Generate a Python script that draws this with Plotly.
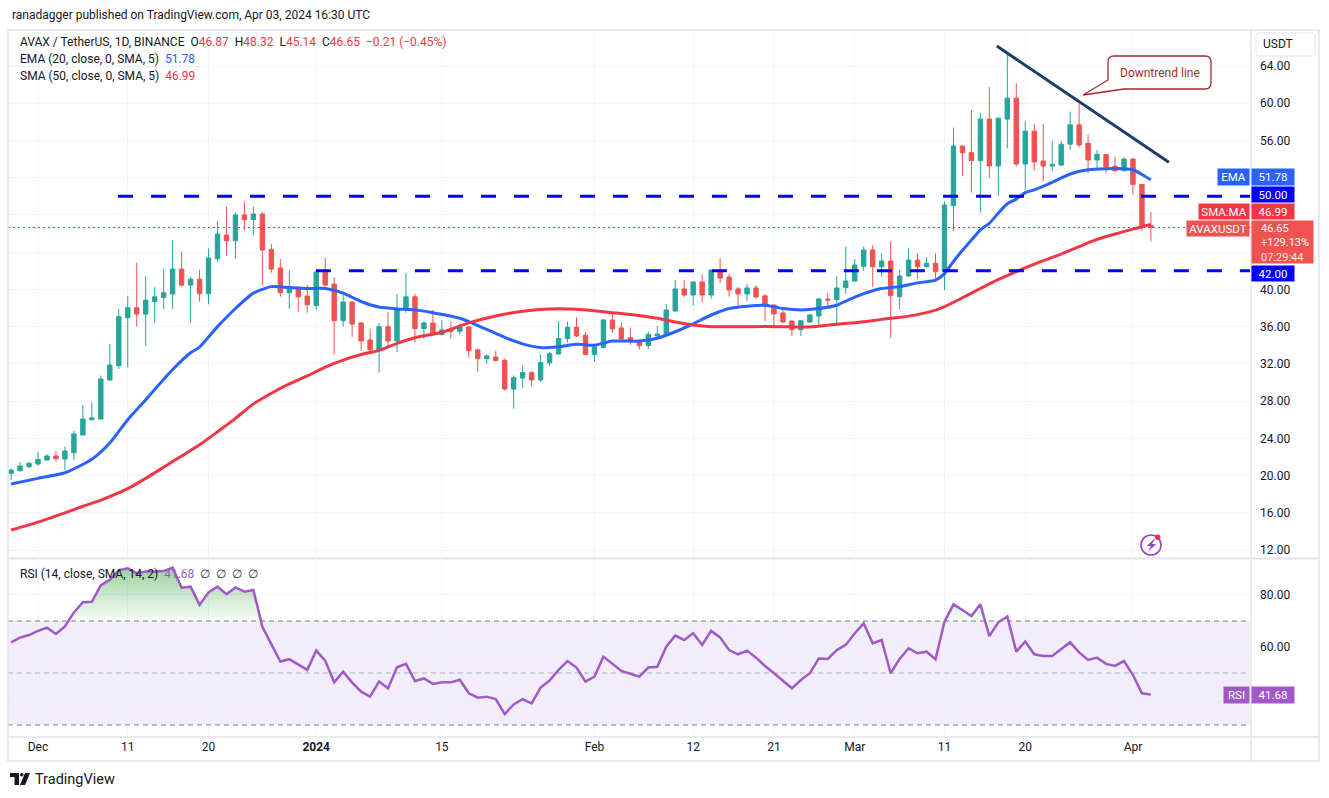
import plotly.graph_objects as go
import pandas as pd

# ---------------- DATA ----------------
dates = pd.date_range("2023-11-28", "2024-04-03", freq="D")

opens = [20.24, 20.52, 20.95,
         21.24, 21.67, 22.10, 21.78, 22.46, 24.36, 26.00, 26.08, 30.27, 31.80, 36.96, 38.03, 37.35, 38.70, 39.13, 39.50,
         42.18, 40.46, 41.10, 39.53, 43.30, 45.84, 45.23, 48.00, 47.50, 48.10, 44.30, 42.30, 39.64, 40.18, 39.28,
         38.28, 41.85, 40.57, 36.64, 38.64, 36.39, 34.57, 33.50, 36.00, 34.46, 37.85, 39.20, 35.78, 36.39, 35.14,
         35.64, 35.50, 35.96, 33.50, 32.56, 32.74, 32.38, 29.30, 30.48, 31.06, 30.27, 32.13, 33.06, 34.71, 35.93, 35.07,
         33.00, 33.75, 36.72, 35.86, 34.82, 34.46, 33.96, 35.00, 35.14, 37.68, 40.05, 39.40, 40.80, 39.40, 42.08,
         41.33, 40.05, 39.51, 40.16, 39.30, 38.33, 37.47, 36.60, 35.67, 36.50, 37.14, 38.97, 38.90, 40.20,
         40.90, 42.50, 44.23, 42.44, 43.05, 39.22, 41.44, 43.15, 42.44, 42.80, 41.90, 49.00, 55.40, 54.70, 53.84,
         58.30, 53.27, 58.30, 60.55, 53.48, 57.00, 53.79, 53.25, 53.36, 55.60, 57.68, 55.70, 53.90, 54.50, 53.25, 52.75,
         54.00, 51.28, 46.87]
highs = [20.78, 21.45, 21.49,
         22.57, 22.30, 22.64, 23.10, 24.80, 27.58, 27.83, 30.74, 34.14, 37.90, 39.28, 42.86, 41.43, 40.25, 42.20, 45.30,
         44.05, 41.36, 42.10, 44.40, 47.34, 48.90, 48.26, 49.46, 48.90, 48.30, 44.88, 43.26, 42.07, 40.20, 40.47,
         41.90, 43.37, 41.32, 39.40, 38.78, 36.45, 35.77, 36.39, 37.56, 39.50, 41.78, 39.50, 36.57, 37.79, 36.72,
         36.54, 36.36, 36.07, 33.67, 33.00, 33.39, 32.56, 30.77, 31.85, 31.24, 32.99, 33.28, 36.60, 36.54, 37.00, 35.43,
         33.90, 36.82, 37.61, 36.47, 35.89, 34.50, 35.46, 36.06, 38.44, 41.01, 41.00, 40.85, 41.62, 42.10, 43.37,
         41.62, 40.26, 40.59, 40.48, 39.50, 38.35, 37.97, 36.70, 36.70, 37.35, 39.08, 39.62, 41.40, 44.60,
         43.26, 44.60, 44.76, 43.87, 45.13, 42.08, 44.40, 43.87, 43.44, 43.87, 49.43, 57.39, 55.45, 59.27, 58.98,
         61.73, 58.45, 65.35, 62.16, 58.08, 57.75, 57.78, 55.95, 55.95, 59.10, 59.93, 56.67, 55.00, 54.55, 54.25, 54.18,
         54.10, 51.30, 48.32]
lows = [19.52, 20.45, 20.77,
        21.06, 21.60, 21.50, 20.60, 21.67, 24.30, 25.95, 25.97, 30.20, 31.45, 31.60, 36.00, 33.96, 36.40, 37.90, 37.90,
        40.30, 36.40, 38.67, 38.40, 42.97, 43.60, 43.30, 46.30, 45.80, 40.47, 41.78, 39.20, 37.90, 37.60, 37.49,
        37.78, 40.30, 32.98, 36.00, 34.92, 33.40, 33.14, 31.07, 33.86, 33.25, 37.49, 34.28, 34.68, 35.07, 35.07,
        34.71, 35.20, 32.67, 31.17, 32.00, 32.30, 29.16, 27.16, 29.40, 29.55, 30.06, 31.81, 33.00, 34.28, 34.90, 32.95,
        32.25, 33.70, 35.36, 34.57, 34.03, 33.57, 33.60, 34.70, 35.10, 37.60, 39.20, 38.25, 38.60, 38.98, 40.68,
        39.22, 38.25, 38.76, 38.98, 36.60, 35.79, 36.39, 34.99, 34.99, 36.40, 36.10, 38.22, 36.10, 39.50,
        40.85, 41.97, 40.29, 41.37, 34.80, 37.86, 41.40, 41.10, 42.35, 40.97, 39.93, 46.28, 52.19, 50.40, 48.25,
        52.00, 50.00, 55.15, 53.20, 50.70, 52.75, 51.60, 52.68, 53.30, 55.00, 55.28, 52.50, 52.86, 52.54, 52.68, 52.70,
        50.20, 46.27, 45.14]
closes = [20.59, 21.02, 21.31,
          21.74, 22.10, 21.81, 22.64, 24.47, 26.08, 26.20, 30.38, 31.88, 37.07, 38.03, 37.35, 38.85, 39.20, 39.64, 42.18,
          40.46, 41.10, 39.53, 43.37, 45.94, 45.23, 48.00, 47.50, 48.10, 44.23, 42.18, 39.64, 40.18, 39.20, 38.35,
          41.85, 40.46, 36.64, 38.64, 36.28, 34.46, 33.50, 36.00, 34.46, 37.90, 39.20, 35.78, 36.39, 35.14, 35.64,
          35.50, 35.96, 33.42, 32.56, 32.85, 32.35, 29.30, 30.52, 31.06, 30.27, 32.13, 33.10, 34.74, 35.93, 35.00, 33.00,
          33.82, 36.72, 35.75, 34.68, 34.39, 33.96, 35.17, 35.20, 37.79, 40.05, 39.40, 40.80, 39.40, 42.08, 41.22,
          39.94, 39.51, 40.16, 39.19, 38.22, 37.36, 36.50, 35.67, 36.64, 37.25, 38.97, 38.86, 40.15, 40.90,
          42.62, 44.23, 42.44, 43.05, 39.32, 41.44, 43.15, 42.44, 42.80, 41.90, 49.07, 55.40, 54.70, 53.84, 58.30,
          53.27, 58.40, 60.55, 53.48, 57.00, 53.70, 53.25, 53.43, 55.60, 57.68, 55.53, 53.90, 54.50, 53.18, 52.75, 54.00,
          51.28, 46.86, 46.65]

rsi = [61.8, 63.6, 64.6,
       66.2, 67.4, 65.0, 67.9, 73.3, 77.2, 77.4, 83.8, 85.8, 89.6, 90.3, 88.3, 89.0, 89.0, 89.2, 90.5,
       82.8, 83.2, 76.2, 81.0, 83.2, 80.3, 82.9, 81.3, 81.9, 67.8, 61.4, 54.4, 55.3, 53.1, 51.2,
       58.6, 54.7, 46.4, 50.5, 46.3, 42.8, 40.9, 46.7, 44.1, 52.2, 53.5, 46.9, 47.9, 45.8, 46.4,
       46.4, 47.4, 42.2, 40.5, 40.9, 40.0, 34.2, 37.9, 39.9, 38.3, 44.4, 47.1, 51.2, 54.6, 52.1, 46.7,
       48.6, 56.3, 53.7, 50.8, 49.7, 48.6, 52.1, 52.4, 60.1, 64.4, 62.7, 65.3, 60.8, 66.2, 63.7,
       58.8, 57.2, 58.6, 55.9, 52.7, 49.9, 47.1, 44.1, 47.3, 49.9, 55.6, 55.4, 58.8, 60.8,
       65.3, 69.1, 61.4, 62.7, 49.9, 55.4, 59.5, 57.6, 58.2, 55.3, 69.7, 76.4, 74.2, 71.9, 76.4,
       64.2, 69.5, 71.7, 58.2, 62.1, 57.2, 56.5, 56.5, 59.2, 61.8, 57.9, 55.0, 55.9, 53.5, 52.7, 54.6,
       49.2, 42.2, 41.68]

ema_dates = ["2023-11-28", "2023-12-01", "2023-12-04", "2023-12-07", "2023-12-09", "2023-12-11", "2023-12-13",
             "2023-12-16", "2023-12-18", "2023-12-19", "2023-12-21", "2023-12-23", "2023-12-25", "2023-12-27",
             "2023-12-29", "2023-12-31", "2024-01-02", "2024-01-04", "2024-01-06", "2024-01-08", "2024-01-10",
             "2024-01-12", "2024-01-14", "2024-01-17", "2024-01-20", "2024-01-22", "2024-01-24", "2024-01-26",
             "2024-01-28", "2024-01-30", "2024-02-01", "2024-02-03", "2024-02-06", "2024-02-08", "2024-02-10",
             "2024-02-12", "2024-02-14", "2024-02-16", "2024-02-18", "2024-02-20", "2024-02-22", "2024-02-24",
             "2024-02-26", "2024-02-28", "2024-02-29", "2024-03-02", "2024-03-04", "2024-03-06", "2024-03-08",
             "2024-03-10", "2024-03-11", "2024-03-12", "2024-03-13", "2024-03-14", "2024-03-15", "2024-03-16",
             "2024-03-17", "2024-03-18", "2024-03-19", "2024-03-20", "2024-03-21", "2024-03-23", "2024-03-25",
             "2024-03-27", "2024-03-29", "2024-03-31", "2024-04-01", "2024-04-02", "2024-04-03"]
ema_vals = [19.1, 19.7, 20.3, 21.75, 23.5, 26.0, 28.15,
            31.4, 33.2, 33.8, 36.0, 37.95, 39.6, 40.3,
            40.2, 40.1, 40.1, 39.6, 38.7, 38.1, 37.9,
            37.8, 37.5, 36.9, 35.7, 34.85, 34.15, 33.75,
            33.85, 34.1, 34.0, 34.45, 34.45, 34.75, 35.45,
            36.3, 37.25, 37.95, 38.2, 38.3, 37.95, 37.8,
            37.95, 38.3, 38.75, 39.55, 40.1, 40.3, 40.7,
            41.0, 41.7, 43.0, 44.2, 45.3, 46.4, 47.1,
            48.2, 49.2, 49.7, 50.4, 50.7, 51.5, 52.4,
            52.85, 52.97, 52.97, 52.85, 52.35, 51.78]

sma_dates = ["2023-11-28", "2023-12-01", "2023-12-04", "2023-12-06", "2023-12-08", "2023-12-11", "2023-12-13",
             "2023-12-15", "2023-12-17", "2023-12-19", "2023-12-21", "2023-12-23", "2023-12-25", "2023-12-27",
             "2023-12-29", "2023-12-31", "2024-01-02", "2024-01-04", "2024-01-06", "2024-01-08", "2024-01-10",
             "2024-01-12", "2024-01-15", "2024-01-18", "2024-01-21", "2024-01-24", "2024-01-27", "2024-01-30",
             "2024-02-01", "2024-02-03", "2024-02-05", "2024-02-08", "2024-02-10", "2024-02-12", "2024-02-14",
             "2024-02-18", "2024-02-22", "2024-02-24", "2024-02-26", "2024-02-28", "2024-03-01", "2024-03-04",
             "2024-03-07", "2024-03-10", "2024-03-11", "2024-03-13", "2024-03-15", "2024-03-17", "2024-03-19",
             "2024-03-21", "2024-03-22", "2024-03-24", "2024-03-26", "2024-03-28", "2024-03-30", "2024-04-01",
             "2024-04-02", "2024-04-03"]
sma_vals = [14.15, 15.0, 16.0, 16.7, 17.37, 18.6, 19.7,
            20.9, 22.1, 23.3, 24.7, 26.15, 27.7, 28.85,
            29.85, 30.7, 31.65, 32.4, 33.0, 33.45, 34.2,
            34.8, 35.4, 36.4, 37.15, 37.65, 37.9, 37.87,
            37.7, 37.5, 37.3, 36.9, 36.5, 36.17, 36.0,
            36.0, 36.0, 35.95, 36.05, 36.26, 36.42, 36.78,
            37.13, 37.78, 38.14, 39.1, 40.1, 41.07, 41.9,
            42.72, 43.1, 43.8, 44.6, 45.37, 45.95, 46.48,
            46.73, 46.99]

tick_dates = ["2023-12-01", "2023-12-11", "2023-12-20", "2024-01-01", "2024-01-15", "2024-02-01",
              "2024-02-12", "2024-02-21", "2024-03-01", "2024-03-11", "2024-03-20", "2024-04-01"]
tick_text = ["Dec", "11", "20", "<b>2024</b>", "15", "Feb", "12", "21", "Mar", "11", "20", "Apr"]

price_ticks = [12, 16, 20, 24, 28, 32, 36, 40, 44, 48, 52, 56, 60, 64]
price_tick_text = ["12.00", "16.00", "20.00", "24.00", "28.00", "32.00", "36.00", "40.00",
                   "", "", "", "56.00", "60.00", "64.00"]
rsi_ticks = [40, 60, 80]
rsi_tick_text = ["", "60.00", "80.00"]

level_hi, level_hi_start = 50.0, "2023-12-09 22:00"
level_lo, level_lo_start = 42.0, "2023-12-31 23:00"
last_price = 46.65
trend_start = ("2024-03-16 20:00", 66.15)
trend_end = ("2024-04-05 00:00", 53.65)

# ---------------- LAYOUT HELPERS ----------------
W, H = 1329, 798
ML, MR, MT, MB = 8, 79, 30, 61
PW, PH = W - ML - MR, H - MT - MB
FONT = "Roboto, 'Noto Sans', sans-serif"
TXT = "#131722"
GRID = "#f0f3fa"
BORDER = "#e0e3eb"
UP, DOWN = "#26a69a", "#ef5350"
EMA_C, SMA_C, RSI_C = "#2962ff", "#f23645", "#a158c9"


def PX(px):
    return (px - ML) / PW


def PY(py):
    return (H - MB - py) / PH


def P(px, py):
    return f"{PX(px):.5f},{PY(py):.5f}"


base = pd.Timestamp("2023-12-01")
x_range = [base + pd.Timedelta(days=-3.343), base + pd.Timedelta(days=135.04)]

fig = go.Figure()

fig.add_trace(go.Candlestick(
    x=dates, open=opens, high=highs, low=lows, close=closes,
    increasing=dict(line=dict(color=UP, width=1), fillcolor=UP),
    decreasing=dict(line=dict(color=DOWN, width=1), fillcolor=DOWN),
    whiskerwidth=0, xaxis="x", yaxis="y", hoverinfo="skip", showlegend=False))

fig.add_trace(go.Scatter(x=pd.to_datetime(ema_dates), y=ema_vals, mode="lines",
                         line=dict(color=EMA_C, width=3, shape="spline", smoothing=0.6),
                         xaxis="x", yaxis="y", hoverinfo="skip", showlegend=False))
fig.add_trace(go.Scatter(x=pd.to_datetime(sma_dates), y=sma_vals, mode="lines",
                         line=dict(color=SMA_C, width=3, shape="spline", smoothing=0.6),
                         xaxis="x", yaxis="y", hoverinfo="skip", showlegend=False))

# RSI overbought fill (region above 70)
fx, fy = [], []
for i in range(len(rsi)):
    if i > 0:
        a, b = rsi[i - 1], rsi[i]
        if (a - 70) * (b - 70) < 0:
            t = (70 - a) / (b - a)
            fx.append(dates[i - 1] + (dates[i] - dates[i - 1]) * t)
            fy.append(70)
    fx.append(dates[i])
    fy.append(max(rsi[i], 70))

fig.add_trace(go.Scatter(x=fx, y=[70] * len(fx), mode="lines", line=dict(width=0, color="rgba(0,0,0,0)"),
                         xaxis="x2", yaxis="y2", hoverinfo="skip", showlegend=False))
fig.add_trace(go.Scatter(x=fx, y=fy, mode="lines", line=dict(width=0, color="rgba(0,0,0,0)"),
                         fill="tonexty",
                         fillgradient=dict(type="vertical", start=70, stop=90,
                                           colorscale=[[0, "rgba(76,175,80,0.03)"],
                                                       [1, "rgba(76,175,80,0.55)"]]),
                         xaxis="x2", yaxis="y2", hoverinfo="skip", showlegend=False))
fig.add_trace(go.Scatter(x=dates, y=rsi, mode="lines", line=dict(color=RSI_C, width=2.5),
                         xaxis="x2", yaxis="y2", hoverinfo="skip", showlegend=False))

shapes = []
# RSI band 30-70
shapes.append(dict(type="rect", xref="x2 domain", yref="y2", x0=0, x1=1, y0=30, y1=70,
                   fillcolor="rgba(126,87,194,0.1)", line=dict(width=0), layer="below"))
for lv, col in [(70, "#787b86"), (30, "#787b86"), (50, "rgba(120,123,134,0.55)")]:
    shapes.append(dict(type="line", xref="x2 domain", yref="y2", x0=0, x1=1, y0=lv, y1=lv,
                       line=dict(color=col, width=1, dash="5px,4px"), layer="above"))
# support / resistance levels
for lv, st in [(level_hi, level_hi_start), (level_lo, level_lo_start)]:
    shapes.append(dict(type="line", xref="x", yref="y", x0=st, x1="2024-04-25", y0=lv, y1=lv,
                       line=dict(color="#0000ff", width=3, dash="15px,18px"), layer="above"))
# last price dotted line
shapes.append(dict(type="line", xref="x domain", yref="y", x0=0, x1=1, y0=last_price, y1=last_price,
                   line=dict(color="#f23645", width=1.2, dash="2px,3px"), layer="above"))
# downtrend line
shapes.append(dict(type="line", xref="x", yref="y", x0=trend_start[0], y0=trend_start[1],
                   x1=trend_end[0], y1=trend_end[1], line=dict(color="#1c3d6e", width=3), layer="above"))
# callout bubble
bubble = (f"M{P(1114,56)} L{P(1205,56)} Q{P(1211,56)} {P(1211,62)} L{P(1211,83)} "
          f"Q{P(1211,89)} {P(1205,89)} L{P(1124,89)} L{P(1083,95)} L{P(1108,80)} "
          f"L{P(1108,62)} Q{P(1108,56)} {P(1114,56)} Z")
shapes.append(dict(type="path", xref="paper", yref="paper", path=bubble,
                   fillcolor="white", line=dict(color="#a12a2e", width=1.3), layer="above"))
# frames / separators
shapes += [
    dict(type="rect", xref="paper", yref="paper", x0=PX(8), x1=PX(1319), y0=PY(30), y1=PY(761),
         line=dict(color=BORDER, width=1.5), fillcolor="rgba(0,0,0,0)", layer="above"),
    dict(type="line", xref="paper", yref="paper", x0=PX(8), x1=PX(1319), y0=PY(558.5), y1=PY(558.5),
         line=dict(color=BORDER, width=2), layer="above"),
    dict(type="line", xref="paper", yref="paper", x0=PX(8), x1=PX(1319), y0=PY(737), y1=PY(737),
         line=dict(color=BORDER, width=1.5), layer="above"),
    dict(type="line", xref="paper", yref="paper", x0=PX(1251), x1=PX(1251), y0=PY(30), y1=PY(761),
         line=dict(color=BORDER, width=1.5), layer="above"),
]
# USDT box
usdt = (f"M{P(1260,33)} L{P(1311,33)} Q{P(1315,33)} {P(1315,37)} L{P(1315,52)} Q{P(1315,56)} {P(1311,56)} "
        f"L{P(1260,56)} Q{P(1256,56)} {P(1256,52)} L{P(1256,37)} Q{P(1256,33)} {P(1260,33)} Z")
shapes.append(dict(type="path", xref="paper", yref="paper", path=usdt, fillcolor="white",
                   line=dict(color=BORDER, width=1), layer="above"))
# lightning icon
shapes.append(dict(type="circle", xref="paper", yref="paper", x0=PX(1141), x1=PX(1161), y0=PY(535), y1=PY(555),
                   line=dict(color="#9c3fc4", width=1.6), fillcolor="white", layer="above"))
bolt = f"M{P(1154,539)} L{P(1147,546)} L{P(1151,546)} L{P(1148,552)} L{P(1156,544)} L{P(1152,544)} L{P(1155,539)} Z"
shapes.append(dict(type="path", xref="paper", yref="paper", path=bolt, fillcolor="#9c3fc4",
                   line=dict(width=0), layer="above"))
shapes.append(dict(type="circle", xref="paper", yref="paper", x0=PX(1155), x1=PX(1160.5), y0=PY(534.5),
                   y1=PY(540), line=dict(width=0), fillcolor="#f23645", layer="above"))
# TradingView logo
shapes += [
    dict(type="rect", xref="paper", yref="paper", x0=PX(10), x1=PX(19), y0=PY(773), y1=PY(777),
         fillcolor=TXT, line=dict(width=0)),
    dict(type="rect", xref="paper", yref="paper", x0=PX(14.5), x1=PX(19), y0=PY(773), y1=PY(785),
         fillcolor=TXT, line=dict(width=0)),
    dict(type="circle", xref="paper", yref="paper", x0=PX(20), x1=PX(23.5), y0=PY(773), y1=PY(776.5),
         fillcolor=TXT, line=dict(width=0)),
    dict(type="path", xref="paper", yref="paper",
         path=f"M{P(25,773)} L{P(30,773)} L{P(25,785)} L{P(20,785)} Z", fillcolor=TXT, line=dict(width=0)),
]

ann = []


def text(px, py, t, size=12, color=TXT, anchor="left"):
    ann.append(dict(xref="paper", yref="paper", x=PX(px), y=PY(py), xanchor=anchor, yanchor="middle",
                    text=t, showarrow=False, font=dict(family=FONT, size=size, color=color)))


def box(x0, x1, y0, y1, bg, t="", size=12, color="white"):
    ann.append(dict(xref="paper", yref="paper", x=PX((x0 + x1) / 2), y=PY((y0 + y1) / 2),
                    xanchor="center", yanchor="middle", text=t if t else " ", showarrow=False,
                    bgcolor=bg, width=x1 - x0, height=y1 - y0, borderpad=0,
                    font=dict(family=FONT, size=size, color=color)))


R = "#f23645"
text(10, 15, "ranadagger published on TradingView.com, Apr 03, 2024 16:30 UTC", size=12)
text(18, 42, f"AVAX / TetherUS, 1D, BINANCE  O<span style='color:{R}'>46.87</span>  "
             f"H<span style='color:{R}'>48.32</span>  L<span style='color:{R}'>45.14</span>  "
             f"C<span style='color:{R}'>46.65</span>  <span style='color:{R}'>−0.21 (−0.45%)</span>", size=12)
text(18, 59, f"EMA (20, close, 0, SMA, 5)  <span style='color:{EMA_C}'>51.78</span>", size=12)
text(18, 76, f"SMA (50, close, 0, SMA, 5)  <span style='color:{R}'>46.99</span>", size=12)
text(18, 574, f"RSI (14, close, SMA, 14, 2)  <span style='color:{RSI_C}'>41.68</span>  "
              f"<span style='color:#2a2e39'>∅  ∅  ∅  ∅</span>", size=12)
text(33, 779, "TradingView", size=14.5)
text(1160, 72.5, "Downtrend line", size=12, color="#a12a2e", anchor="center")
text(1278, 44.5, "USDT", size=12, anchor="center")

box(1218, 1249, 169, 185, EMA_C, "EMA", size=11.5)
box(1252, 1294, 169, 185, EMA_C, "51.78", size=11.5)
box(1252, 1294, 187, 202, "#0000ff", "50.00", size=11.5)
box(1199, 1249, 204, 219, "#f23645", "SMA:MA", size=11.5)
box(1252, 1294, 204, 219, "#f23645", "46.99", size=11.5)
box(1187, 1249, 221, 236, DOWN, "AVAXUSDT", size=11.5)
box(1252, 1313, 221, 263, DOWN)
text(1259, 229, "46.65", color="white", size=11)
text(1259, 243, "+129.13%", color="white", size=11)
text(1259, 257, "07:29:44", color="#fde4e4", size=11)
box(1252, 1294, 266, 281, "#0000ff", "42.00", size=11.5)
box(1224, 1249, 687, 703, RSI_C, "RSI", size=11.5)
box(1252, 1294, 687, 703, RSI_C, "41.68", size=11.5)

fig.update_layout(
    width=W, height=H, margin=dict(l=ML, r=MR, t=MT, b=MB),
    paper_bgcolor="white", plot_bgcolor="white", showlegend=False, hovermode=False,
    font=dict(family=FONT, size=12, color=TXT),
    xaxis=dict(domain=[0, 1], anchor="y", range=x_range, tickvals=pd.to_datetime(tick_dates),
               showticklabels=False, showgrid=True, gridcolor=GRID, gridwidth=1, zeroline=False,
               showline=False, ticks="", rangeslider=dict(visible=False), fixedrange=True),
    yaxis=dict(domain=[PY(557), 1], anchor="x", side="right", range=[11.25, 67.87],
               tickvals=price_ticks, ticktext=price_tick_text,
               showgrid=True, gridcolor=GRID, zeroline=False, showline=False, ticks="",
               ticklabelstandoff=9, tickfont=dict(size=12, color=TXT, family=FONT)),
    xaxis2=dict(domain=[0, 1], anchor="y2", matches="x", range=x_range, tickvals=pd.to_datetime(tick_dates),
                ticktext=tick_text, showgrid=True, gridcolor=GRID, zeroline=False, showline=False, ticks="",
                tickfont=dict(size=12, color=TXT, family=FONT), ticklabelstandoff=1),
    yaxis2=dict(domain=[0, PY(560)], anchor="x2", side="right", range=[25.38, 93.46],
                tickvals=rsi_ticks, ticktext=rsi_tick_text, showgrid=True, gridcolor=GRID,
                zeroline=False, showline=False, ticks="", ticklabelstandoff=9,
                tickfont=dict(size=12, color=TXT, family=FONT)),
    shapes=shapes, annotations=ann,
)

fig.write_html("out.html", config={"displayModeBar": False},
               post_script="document.body.style.margin='0';document.body.style.padding='0';"
                           "document.documentElement.style.overflow='hidden';")
